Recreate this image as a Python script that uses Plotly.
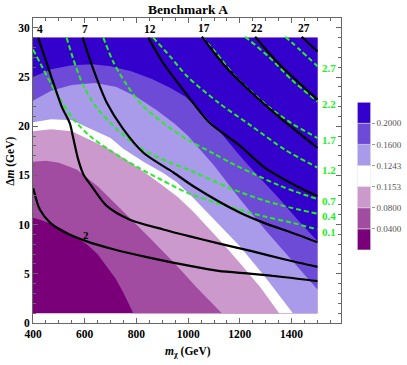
import plotly.graph_objects as go

# region covered by the scan (GeV)
M_MIN, M_MAX = 400, 1500
DM_MIN, DM_MAX = 1, 29

# filled contour levels (lowest band first)
levels = ["0.0400", "0.0800", "0.1153", "0.1243", "0.1600", "0.2000"]
band_colors = ["#7a0079", "#a14ca1", "#cc99cc", "#ffffff", "#a99be9", "#6d4bd7", "#3300cc"]

# boundaries of the filled bands (m_chi, delta m)
b1_m = [400, 427, 470, 517, 560, 608, 650, 685, 720, 749, 770, 788]
b1_d = [10.7, 10.5, 10.1, 9.5, 8.8, 8.0, 7.0, 5.8, 4.5, 3.1, 2.0, 1.0]
b2_m = [400, 450, 500, 569, 650, 698, 750, 850, 950, 1033, 1080, 1130]
b2_d = [16.4, 16.5, 16.3, 15.6, 13.9, 12.6, 11.3, 8.7, 6.0, 3.6, 2.3, 1.0]
b3_m = [400, 470, 550, 640, 700, 760, 827, 900, 960, 1020, 1085, 1140, 1200, 1280, 1352]
b3_d = [19.5, 19.7, 19.5, 18.4, 17.6, 16.6, 15.4, 14.0, 12.8, 11.3, 9.5, 7.9, 6.1, 3.6, 1.0]
b4_m = [400, 470, 550, 646, 700, 749, 827, 900, 956, 1020, 1085, 1140, 1200, 1300, 1405]
b4_d = [20.4, 20.7, 20.6, 19.5, 18.8, 17.7, 16.4, 15.3, 14.3, 12.7, 10.9, 9.4, 7.8, 4.6, 1.0]
b5_m = [400, 470, 550, 640, 720, 800, 880, 950, 1000, 1100, 1200, 1300, 1400, 1500]
b5_d = [22.6, 23.6, 24.2, 24.4, 24.0, 23.0, 21.6, 20.2, 19.0, 16.0, 12.6, 9.4, 6.4, 3.4]
b6_m = [400, 470, 550, 630, 700, 780, 860, 930, 990, 1060, 1130, 1200, 1265, 1350, 1420, 1500]
b6_d = [25.0, 25.8, 26.2, 26.3, 26.1, 25.6, 24.8, 23.9, 23.0, 21.2, 19.2, 17.0, 15.1, 12.7, 10.6, 8.3]
boundaries = [(b1_m, b1_d), (b2_m, b2_d), (b3_m, b3_d), (b4_m, b4_d), (b5_m, b5_d), (b6_m, b6_d)]

# black contours
k2_m = [401, 427, 466, 517, 608, 711, 840, 1007, 1117, 1246, 1375, 1500]
k2_d = [13.7, 11.5, 10.2, 9.3, 8.3, 7.5, 6.7, 5.8, 5.3, 5.0, 4.65, 4.25]
k4_m = [420, 466, 511, 543, 554, 575, 595, 627, 685, 775, 904, 1007, 1117, 1246, 1375, 1500]
k4_d = [29.0, 25.4, 22.0, 20.25, 19.0, 16.6, 15.1, 13.9, 11.9, 10.5, 9.5, 8.8, 8.1, 7.3, 6.45, 5.7]
k7_m = [592, 633, 685, 749, 827, 943, 1020, 1201, 1291, 1420, 1500]
k7_d = [29.0, 25.8, 22.4, 19.7, 17.3, 15.3, 13.9, 11.2, 10.2, 9.0, 8.2]
k12_m = [846, 904, 969, 1030, 1085, 1201, 1291, 1420, 1500]
k12_d = [29.0, 26.4, 24.1, 22.0, 20.3, 18.0, 15.9, 13.9, 12.9]
k17_m = [1053, 1143, 1246, 1349, 1500]
k17_d = [29.1, 26.1, 23.4, 21.0, 17.8]
k22_m = [1259, 1349, 1500]
k22_d = [29.1, 26.4, 22.7]
k27_m = [1439, 1500]
k27_d = [29.1, 27.6]
black_lines = [("2", k2_m, k2_d), ("4", k4_m, k4_d), ("7", k7_m, k7_d), ("12", k12_m, k12_d),
               ("17", k17_m, k17_d), ("22", k22_m, k22_d), ("27", k27_m, k27_d)]

# green dashed contours
g01_m = [400, 430, 470, 510, 560, 620, 700, 800, 900, 1000, 1100, 1200, 1300, 1400, 1500]
g01_d = [27.8, 26.3, 24.3, 22.5, 20.6, 19.0, 17.5, 15.9, 14.5, 13.2, 12.3, 11.5, 10.8, 10.2, 9.5]
g04_m = [530, 556, 595, 646, 724, 814, 930, 1000, 1162, 1300, 1400, 1500]
g04_d = [29.0, 26.8, 24.1, 21.9, 19.7, 17.8, 16.3, 15.6, 13.7, 12.4, 11.7, 11.1]
g07_m = [672, 711, 760, 820, 900, 1000, 1100, 1162, 1250, 1350, 1420, 1500]
g07_d = [29.0, 26.5, 24.3, 22.2, 20.4, 18.6, 17.2, 16.3, 15.2, 14.0, 13.3, 12.6]
g12_m = [865, 930, 995, 1117, 1246, 1375, 1500]
g12_d = [29.0, 27.1, 25.1, 22.4, 20.0, 17.6, 15.8]
g17_m = [1053, 1110, 1181, 1245, 1310, 1400, 1500]
g17_d = [29.1, 27.4, 25.1, 23.5, 22.0, 20.3, 18.8]
g22_m = [1220, 1310, 1401, 1500]
g22_d = [29.1, 27.1, 24.7, 22.5]
g27_m = [1375, 1435, 1500]
g27_d = [29.1, 27.7, 26.1]
green_lines = [("0.1", g01_m, g01_d), ("0.4", g04_m, g04_d), ("0.7", g07_m, g07_d), ("1.2", g12_m, g12_d),
               ("1.7", g17_m, g17_d), ("2.2", g22_m, g22_d), ("2.7", g27_m, g27_d)]

SERIF = "Liberation Serif"
GREEN = "#22ee22"

fig = go.Figure()

# lowest band covers the whole scanned rectangle
fig.add_trace(go.Scatter(x=[M_MIN, M_MAX, M_MAX, M_MIN], y=[DM_MIN, DM_MIN, DM_MAX, DM_MAX],
                         fill="toself", fillcolor=band_colors[0], mode="lines", line=dict(width=0),
                         hoverinfo="skip", showlegend=False))

# each higher band = region above/right of its boundary
for (bm, bd), col in zip(boundaries, band_colors[1:]):
    xs, ys = list(bm), list(bd)
    if ys[-1] == DM_MIN:
        xs.append(M_MAX)
        ys.append(DM_MIN)
    xs += [M_MAX, M_MIN]
    ys += [DM_MAX, DM_MAX]
    fig.add_trace(go.Scatter(x=xs, y=ys, fill="toself", fillcolor=col, mode="lines",
                             line=dict(width=0), hoverinfo="skip", showlegend=False))

for lab, gm, gd in green_lines:
    fig.add_trace(go.Scatter(x=gm, y=gd, mode="lines", showlegend=False, hoverinfo="skip",
                             line=dict(color=GREEN, width=2, dash="5px,3px", shape="spline", smoothing=0.8)))
    fig.add_annotation(x=gm[-1], y=gd[-1], text=f"<b>{lab}</b>", showarrow=False, xanchor="left",
                       xshift=3, yshift=-2, font=dict(family=SERIF, size=11, color=GREEN))

for lab, km, kd in black_lines:
    fig.add_trace(go.Scatter(x=km, y=kd, mode="lines", showlegend=False, hoverinfo="skip",
                             line=dict(color="black", width=2.2, shape="spline", smoothing=0.8)))
    if lab == "2":
        fig.add_annotation(x=604, y=8.9, text="<b>2</b>", showarrow=False,
                           font=dict(family=SERIF, size=11, color="black"))
    else:
        fig.add_annotation(x=km[0], y=kd[0], text=f"<b>{lab}</b>", showarrow=False, xshift=2,
                           yshift=9, font=dict(family=SERIF, size=11.5, color="black"))

# legend column for the filled levels
fig.add_trace(go.Bar(x=[0] * len(band_colors), y=[1] * len(band_colors), base=list(range(len(band_colors))),
                     marker=dict(color=band_colors, line=dict(color="#d8d8d8", width=0.6)), width=1,
                     xaxis="x2", yaxis="y2", showlegend=False, hoverinfo="skip"))

axis_common = dict(showgrid=False, zeroline=False, showline=True, linecolor="#666", linewidth=1,
                   mirror="allticks", ticks="inside", tickcolor="#666", ticklen=5, automargin=False,
                   tickfont=dict(family=SERIF, size=11.5, color="black", weight="bold"))

fig.update_layout(
    width=407, height=365,
    margin=dict(l=33, r=2, t=18, b=41.5, autoexpand=False),
    paper_bgcolor="white", plot_bgcolor="white",
    title=dict(text="<b>Benchmark A</b>", x=0.4167, xref="paper", xanchor="center",
               y=1 - 9.5 / 365, yref="container", yanchor="middle",
               font=dict(family=SERIF, size=13.5, color="black")),
    xaxis=dict(range=[400, 1593], domain=[0, 0.8293], tickvals=[400, 600, 800, 1000, 1200, 1400],
               minor=dict(dtick=50, tick0=400, ticks="inside", ticklen=3, tickcolor="#666"),
               **axis_common),
    yaxis=dict(range=[0, 31], tickvals=[0, 5, 10, 15, 20, 25, 30],
               minor=dict(dtick=1, tick0=0, ticks="inside", ticklen=3, tickcolor="#666"),
               **axis_common),
    xaxis2=dict(domain=[0.8718, 0.9078], range=[-0.5, 0.5], visible=False, anchor="y2", automargin=False),
    yaxis2=dict(domain=[0.2396, 0.724], range=[0, 7], anchor="x2", side="right", automargin=False,
                tickvals=list(range(1, 7)), ticktext=levels, ticks="outside", ticklen=3,
                tickcolor="#999", showgrid=False, zeroline=False, showline=False,
                tickfont=dict(family=SERIF, size=9, color="#555")),
    annotations=list(fig.layout.annotations) + [
        dict(text="<b><i>m</i><sub>χ</sub> (GeV)</b>", xref="paper", yref="paper", x=0.4167, y=0,
             yanchor="middle", yshift=-29, showarrow=False, font=dict(family=SERIF, size=11.5, color="black")),
        dict(text="<b>Δ<i>m</i> (GeV)</b>", xref="paper", yref="paper", x=0, y=0.5286,
             xanchor="center", xshift=-22, textangle=-90, showarrow=False,
             font=dict(family=SERIF, size=11.5, color="black")),
    ],
)

# page body has a default 8px margin; drop it so the figure sits at the window corner
fig.write_html("out.html", config={"displayModeBar": False},
               post_script="document.body.style.margin='0';")
